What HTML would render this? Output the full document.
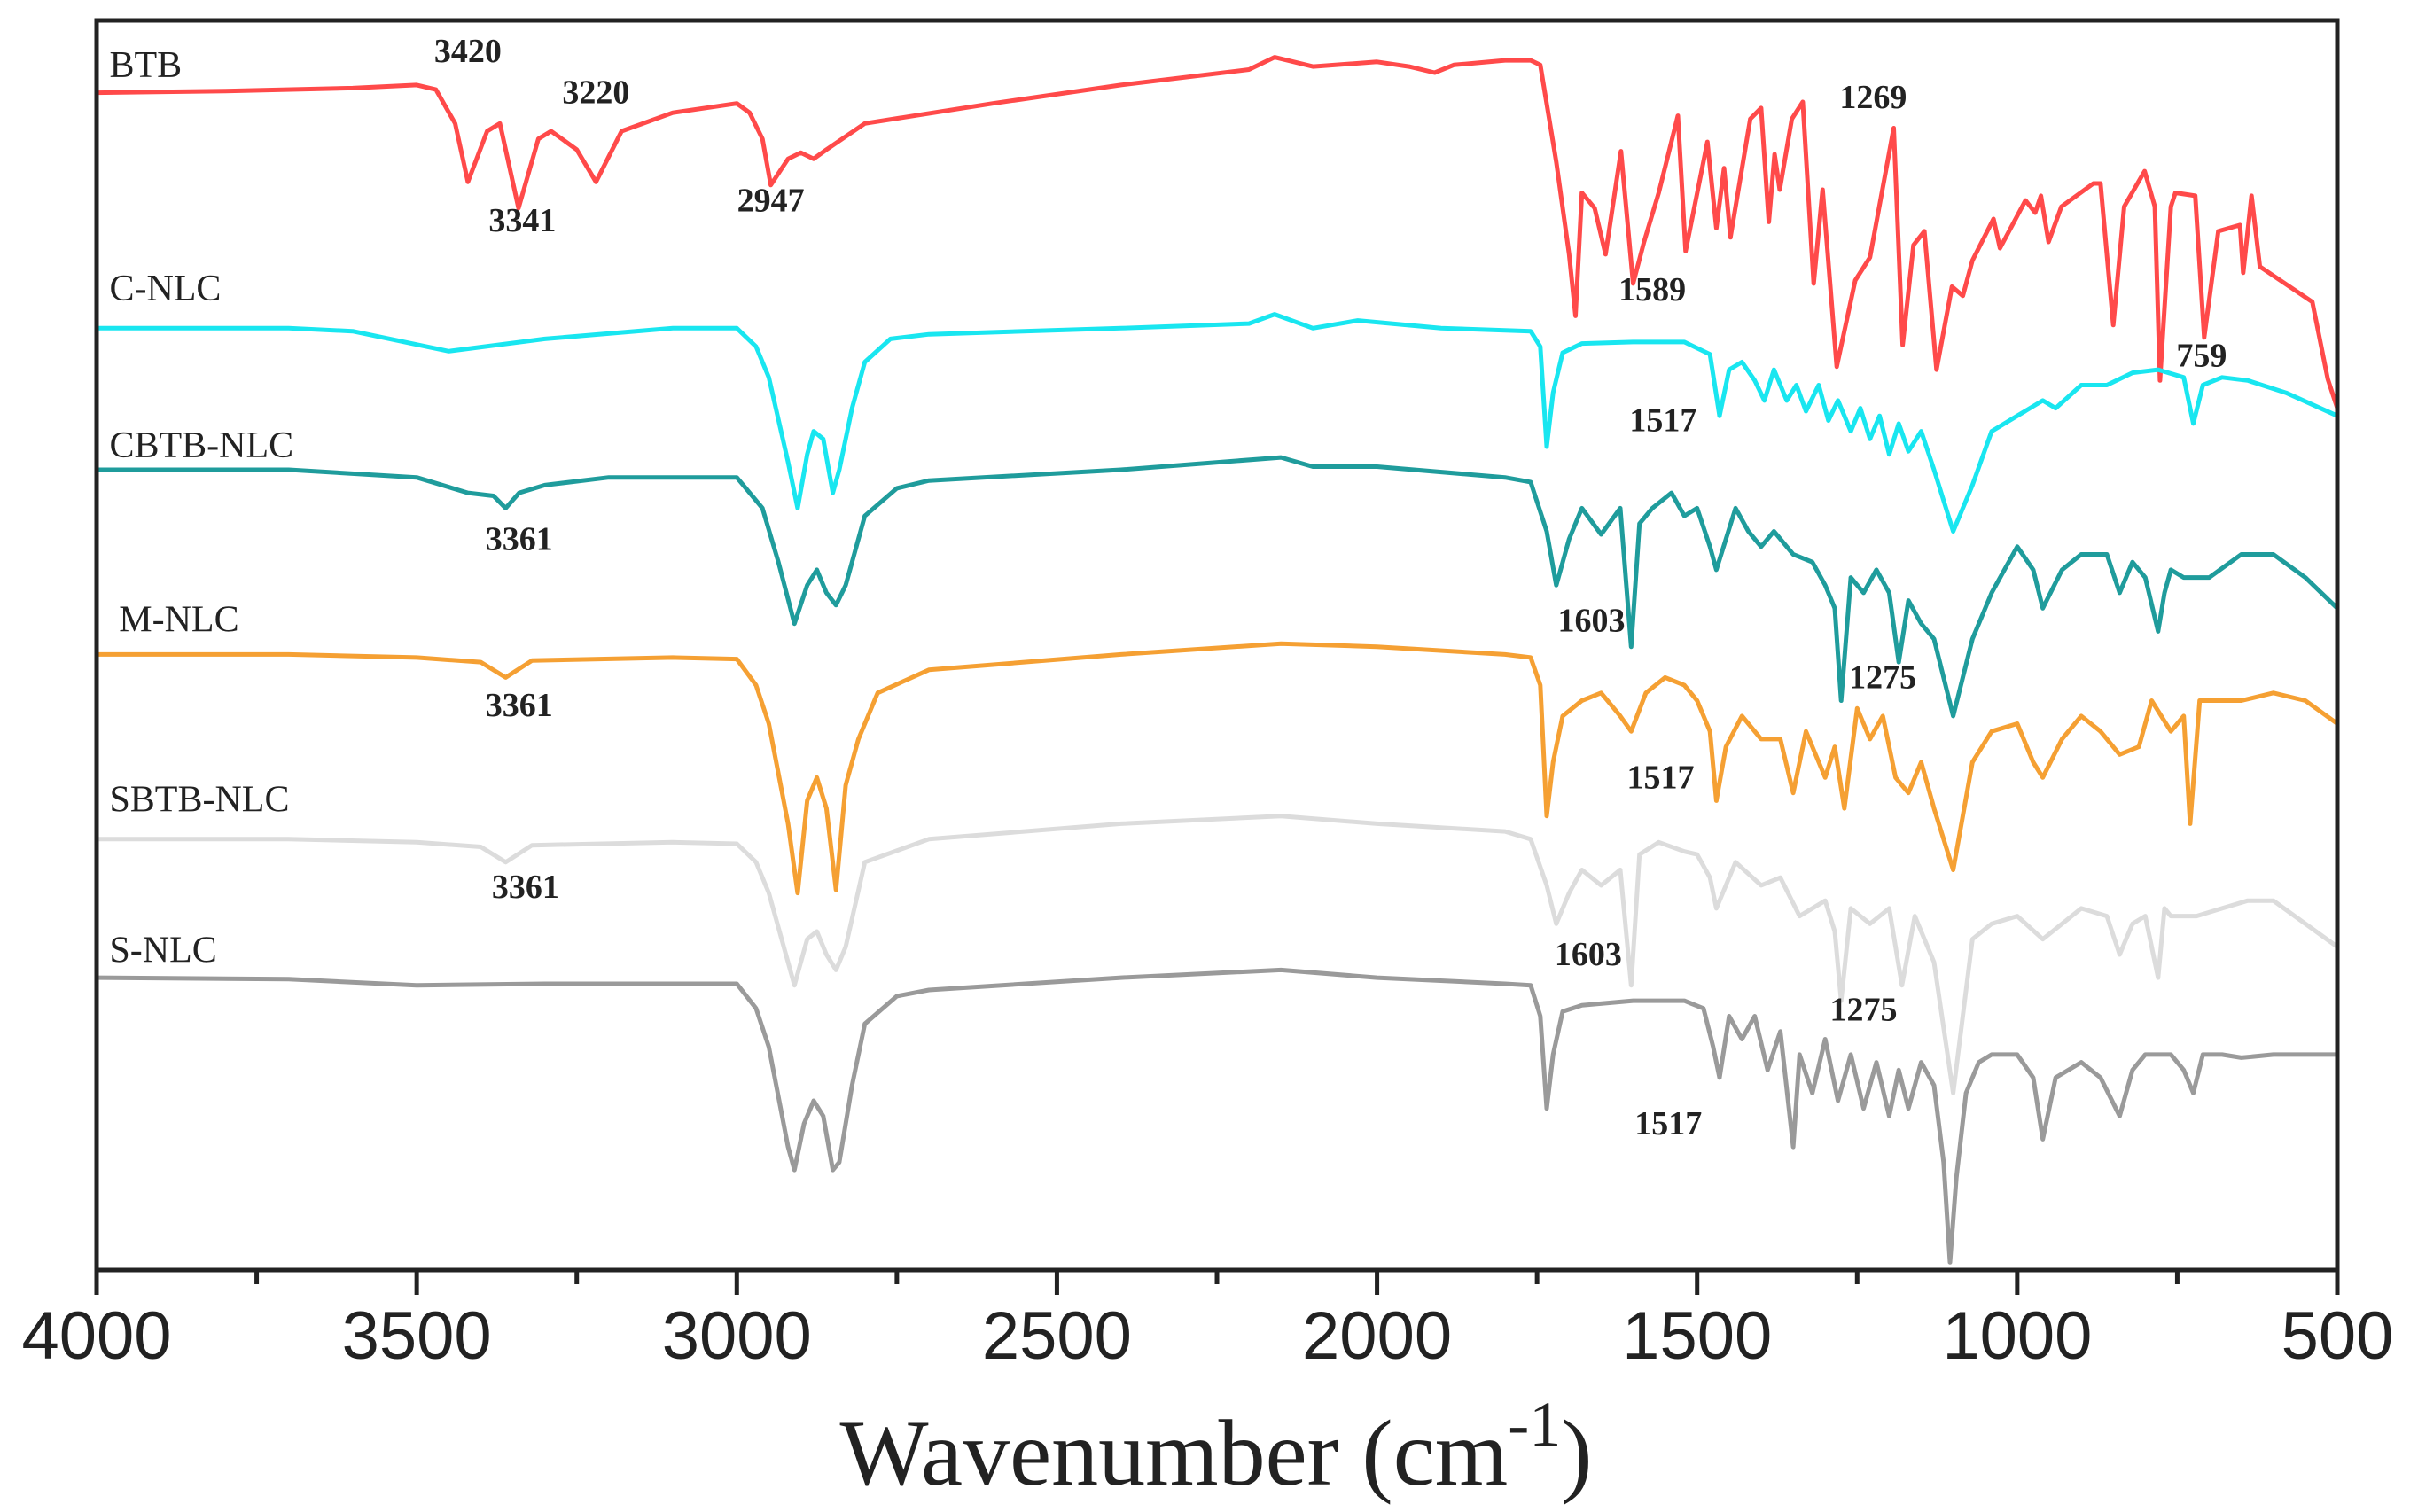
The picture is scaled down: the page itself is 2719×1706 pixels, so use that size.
<!DOCTYPE html>
<html><head><meta charset="utf-8"><style>
html,body{margin:0;padding:0;background:#fff;}
svg{display:block;}
</style></head><body>
<svg id="chart" width="2719" height="1706" viewBox="0 0 2719 1706" xmlns="http://www.w3.org/2000/svg">
<rect width="2719" height="1706" fill="#fff"/>
<g id="series"></g>
<rect x="109" y="23" width="2528" height="1410" fill="none" stroke="#222" stroke-width="5"/>
<g id="ticks"></g>
<text x="1372" y="1675" text-anchor="middle" font-family="Liberation Serif, serif" font-size="106" fill="#222">Wavenumber (cm<tspan dy="-44" font-size="72">-1</tspan><tspan dy="44">)</tspan></text>
<g id="labels" font-family="Liberation Serif, serif" fill="#222"></g>
</svg>
<script>
// wavenumbers (cm-1) and relative transmittance values (arbitrary units, higher = up)
const xTicks = [4000,3500,3000,2500,2000,1500,1000,500];
const seriesNames = ["BTB","C-NLC","CBTB-NLC","M-NLC","SBTB-NLC","S-NLC"];
const seriesColors = ["#ff4a4a","#19e6f0","#1f9c9c","#f5a033","#dcdcdc","#9a9a9a"];
const btbWn = [4000,3800,3600,3500,3470,3440,3420,3390,3370,3341,3310,3290,3250,3220,3180,3100,3000,2980,2960,2947,2920,2900,2880,2860,2800,2600,2400,2200,2160,2100,2000,1950,1910,1880,1800,1760,1745,1720,1700,1690,1680,1660,1643,1619,1600,1583,1560,1530,1518,1484,1470,1458,1448,1417,1400,1388,1379,1371,1352,1335,1318,1304,1282,1253,1230,1193,1179,1162,1145,1126,1102,1085,1070,1037,1027,987,972,963,951,931,881,870,850,833,801,785,777,760,753,722,708,686,652,647,634,621,539,515,500];
const btbVal = [765,766,768,770,767,745,707,740,745,690,735,740,728,707,740,752,758,752,735,705,722,726,722,728,745,758,770,780,788,782,785,782,778,783,786,786,783,720,660,620,700,690,660,727,641,668,700,750,662,733,677,716,671,748,755,681,725,702,748,759,641,702,587,643,658,742,601,666,675,585,639,633,656,683,664,695,687,698,668,691,706,706,614,691,714,691,578,691,700,698,606,675,679,648,698,652,629,579,560];
const cWn = [4000,3700,3600,3450,3300,3100,3000,2970,2950,2920,2905,2890,2880,2865,2850,2840,2820,2800,2760,2700,2400,2200,2160,2100,2030,1900,1760,1745,1735,1725,1710,1680,1600,1520,1480,1465,1450,1430,1410,1395,1380,1360,1345,1330,1310,1295,1280,1260,1245,1230,1215,1200,1185,1170,1150,1130,1100,1070,1040,1000,960,940,900,860,820,780,740,725,710,680,640,580,500];
const cVal = [612,612,610,597,605,612,612,600,580,525,495,530,545,540,505,520,560,590,605,608,612,615,621,612,617,612,610,600,535,570,596,602,603,603,595,555,585,590,578,565,585,565,575,558,575,552,565,545,560,540,555,530,550,532,545,520,480,510,545,555,565,560,575,575,583,585,580,550,575,580,578,570,555];
const cbWn = [4000,3700,3500,3420,3380,3361,3340,3300,3200,3000,2960,2935,2910,2890,2875,2860,2845,2830,2800,2750,2700,2400,2150,2100,2000,1800,1760,1735,1720,1700,1680,1650,1620,1603,1590,1570,1540,1520,1500,1480,1470,1440,1420,1400,1380,1350,1320,1300,1285,1275,1260,1240,1220,1200,1185,1170,1150,1130,1100,1070,1040,1000,975,960,930,900,860,840,820,800,780,770,760,740,700,650,600,550,500];
const cbVal = [520,520,515,505,503,495,505,510,515,515,495,460,420,445,455,440,432,445,490,508,513,520,528,522,522,515,512,480,445,475,495,478,495,405,485,495,505,490,495,470,455,495,480,470,480,465,460,445,430,370,450,440,455,440,395,435,420,410,360,410,440,470,455,430,455,465,465,440,460,450,415,440,455,450,450,465,465,450,430];
const mWn = [4000,3700,3500,3400,3361,3320,3100,3000,2970,2950,2920,2905,2890,2875,2860,2845,2830,2810,2780,2700,2400,2150,2000,1800,1760,1745,1735,1725,1710,1680,1650,1620,1603,1580,1550,1520,1500,1480,1470,1455,1430,1400,1370,1350,1330,1300,1285,1270,1250,1230,1210,1190,1170,1150,1130,1100,1070,1040,1000,975,960,930,900,870,840,810,790,760,740,730,715,690,650,600,550,500];
const mVal = [400,400,398,395,385,396,398,397,380,355,290,245,305,320,300,247,315,345,375,390,400,407,405,400,398,380,295,330,360,370,375,360,350,375,385,380,370,350,305,340,360,345,345,310,350,320,340,300,365,345,360,320,310,330,300,260,330,350,355,330,320,345,360,350,335,340,370,350,360,290,370,370,370,375,370,355];
const sbWn = [4000,3700,3500,3400,3361,3320,3100,3000,2970,2950,2910,2890,2875,2860,2845,2830,2800,2700,2400,2150,2000,1800,1760,1735,1720,1700,1680,1650,1620,1603,1590,1560,1520,1500,1480,1470,1440,1400,1370,1340,1300,1285,1275,1260,1230,1200,1180,1160,1130,1100,1070,1040,1000,960,930,900,860,840,820,800,780,770,760,720,680,640,600,500];
const sbVal = [280,280,278,275,265,276,278,277,265,245,185,215,220,205,195,210,265,280,290,295,290,285,280,250,225,245,260,250,260,185,270,278,272,270,255,235,265,250,255,230,240,220,175,235,225,235,185,230,200,115,215,225,230,215,225,235,230,205,225,230,190,235,230,230,235,240,240,210];
const sWn = [4000,3700,3500,3300,3100,3000,2970,2950,2920,2910,2895,2880,2865,2850,2840,2820,2800,2750,2700,2400,2150,2000,1800,1760,1745,1735,1725,1710,1680,1600,1520,1490,1475,1465,1450,1430,1410,1390,1370,1350,1340,1320,1300,1280,1260,1240,1220,1200,1185,1170,1150,1130,1115,1105,1095,1080,1060,1040,1000,975,960,940,900,870,840,820,800,760,740,725,710,680,650,600,550,500];
const sVal = [190,189,185,186,186,186,170,145,80,65,95,110,100,65,70,120,160,178,182,190,195,190,186,185,165,105,140,168,172,175,175,170,145,125,165,150,165,130,155,80,140,115,150,110,140,105,135,100,130,105,135,120,70,5,60,115,135,140,140,125,85,125,135,125,100,130,140,140,130,115,140,140,138,140,140,140];
const seriesWn = [btbWn,cWn,cbWn,mWn,sbWn,sWn];
const seriesVal = [btbVal,cVal,cbVal,mVal,sbVal,sVal];
// label text and anchor positions (wavenumber, value)
const nameText = seriesNames;
const nameWn = [3980,3980,3980,3965,3980,3980];
const nameVal = [775,630,528,415,298,200];
const peakText = ["3420","3220","3341","2947","1269","1589","759","1517","3361","1603","1275","3361","1517","3361","1603","1275","1517"];
const peakWn = [3420,3220,3335,2947,1225,1570,712,1553,3340,1665,1210,3340,1557,3330,1670,1240,1545];
const peakVal = [785,758,675,688,755,630,587,545,468,415,378,360,313,242,198,162,88];

const L=109,R=2637,B=1433,T=23;
function xScale(w){return L+(4000-w)/3500*(R-L);}
function yScale(v){return B-v*1.7365;}
const NS="http://www.w3.org/2000/svg";
const gS=document.getElementById('series');
seriesWn.forEach((wn,i)=>{
  const p=document.createElementNS(NS,'path');
  let d='';
  wn.forEach((w,j)=>{d+=(j?'L':'M')+xScale(w).toFixed(1)+','+yScale(seriesVal[i][j]).toFixed(1);});
  p.setAttribute('d',d);
  p.setAttribute('fill','none');
  p.setAttribute('stroke',seriesColors[i]);
  p.setAttribute('stroke-width','5');
  p.setAttribute('stroke-linejoin','round');
  
  
  gS.appendChild(p);
});
const gT=document.getElementById('ticks');
for(let w=4000;w>=500;w-=250){
  const major=xTicks.includes(w);
  const l=document.createElementNS(NS,'line');
  l.setAttribute('x1',xScale(w));l.setAttribute('x2',xScale(w));
  l.setAttribute('y1',B);l.setAttribute('y2',B+(major?28:16));
  l.setAttribute('stroke','#222');l.setAttribute('stroke-width','5');
  
  
  gT.appendChild(l);
}
xTicks.forEach(w=>{
  const t=document.createElementNS(NS,'text');
  t.setAttribute('x',xScale(w));t.setAttribute('y',1533);
  t.setAttribute('text-anchor','middle');
  t.setAttribute('font-family','Liberation Sans, sans-serif');
  t.setAttribute('font-size','76');t.setAttribute('fill','#222');
  t.textContent=w;
  
  
  gT.appendChild(t);
});
const gL=document.getElementById('labels');
nameText.forEach((s,i)=>{
  const t=document.createElementNS(NS,'text');
  t.setAttribute('x',xScale(nameWn[i]));t.setAttribute('y',yScale(nameVal[i]));
  t.setAttribute('font-size','42');
  t.textContent=s;
  
  
  gL.appendChild(t);
});
peakText.forEach((s,i)=>{
  const t=document.createElementNS(NS,'text');
  t.setAttribute('x',xScale(peakWn[i]));t.setAttribute('y',yScale(peakVal[i]));
  t.setAttribute('font-size','38');t.setAttribute('font-weight','bold');
  t.setAttribute('text-anchor','middle');
  t.textContent=s;
  
  
  gL.appendChild(t);
});
</script>
</body></html>
